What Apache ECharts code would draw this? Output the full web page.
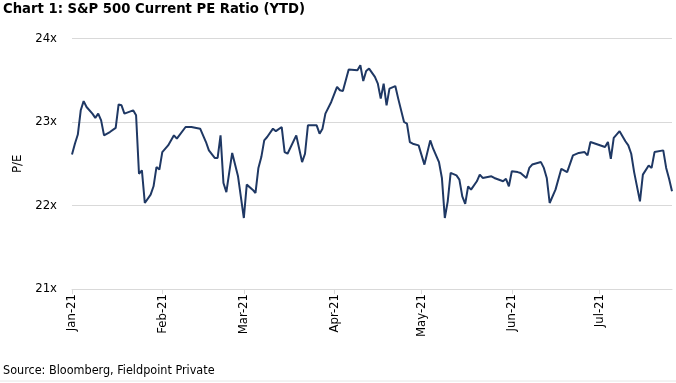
<!DOCTYPE html>
<html>
<head>
<meta charset="utf-8">
<script src="https://cdn.jsdelivr.net/npm/echarts@6/dist/echarts.min.js"></script>
<style>
html,body{margin:0;padding:0;background:#fff;}
#chart{width:676px;height:383px;}
</style>
</head>
<body>
<div id="chart"></div>
<script>
const titleText = 'Chart 1: S&P 500 Current PE Ratio (YTD)';
const sourceText = 'Source: Bloomberg, Fieldpoint Private';
const yAxisName = 'P/E';
const monthLabels = ['Jan-21','Feb-21','Mar-21','Apr-21','May-21','Jun-21','Jul-21','Aug-21','Sep-21','Oct-21','Nov-21','Dec-21'];
const yTicks = [21, 22, 23, 24];

const dates = [
 '2021-01-01','2021-01-02','2021-01-03','2021-01-04','2021-01-05','2021-01-06','2021-01-08','2021-01-09','2021-01-10','2021-01-11',
 '2021-01-12','2021-01-14','2021-01-16','2021-01-17','2021-01-18','2021-01-19','2021-01-22','2021-01-23','2021-01-24','2021-01-25',
 '2021-01-26','2021-01-28','2021-01-29','2021-01-30','2021-01-31','2021-02-01','2021-02-03','2021-02-05','2021-02-06','2021-02-09',
 '2021-02-11','2021-02-14','2021-02-16','2021-02-17','2021-02-19','2021-02-20','2021-02-21','2021-02-22','2021-02-23','2021-02-24',
 '2021-02-25','2021-02-27','2021-03-01','2021-03-02','2021-03-04','2021-03-05','2021-03-06','2021-03-07','2021-03-08','2021-03-09',
 '2021-03-11','2021-03-12','2021-03-14','2021-03-15','2021-03-16','2021-03-19','2021-03-21','2021-03-22','2021-03-23','2021-03-25',
 '2021-03-26','2021-03-27','2021-03-28','2021-03-29','2021-03-31','2021-04-02','2021-04-03','2021-04-04','2021-04-06','2021-04-09',
 '2021-04-10','2021-04-11','2021-04-12','2021-04-13','2021-04-15','2021-04-16','2021-04-17','2021-04-18','2021-04-19','2021-04-20',
 '2021-04-22','2021-04-23','2021-04-25','2021-04-26','2021-04-27','2021-04-28','2021-04-30','2021-05-02','2021-05-04','2021-05-05',
 '2021-05-07','2021-05-08','2021-05-09','2021-05-10','2021-05-11','2021-05-13','2021-05-14','2021-05-15','2021-05-16','2021-05-17',
 '2021-05-18','2021-05-20','2021-05-21','2021-05-22','2021-05-25','2021-05-26','2021-05-29','2021-05-30','2021-05-31','2021-06-01',
 '2021-06-03','2021-06-04','2021-06-06','2021-06-07','2021-06-08','2021-06-11','2021-06-12','2021-06-13','2021-06-14','2021-06-16',
 '2021-06-18','2021-06-20','2021-06-22','2021-06-24','2021-06-26','2021-06-27','2021-06-28','2021-07-03','2021-07-04','2021-07-05',
 '2021-07-06','2021-07-08','2021-07-10','2021-07-11','2021-07-12','2021-07-13','2021-07-15','2021-07-16','2021-07-18','2021-07-19',
 '2021-07-20','2021-07-23','2021-07-24','2021-07-25','2021-07-26'
];
const peValues = [
 22.61,22.74,22.85,23.14,23.25,23.18,23.10,23.05,23.10,23.02,
 22.84,22.88,22.93,23.21,23.20,23.10,23.14,23.08,22.38,22.42,
 22.03,22.13,22.23,22.46,22.43,22.64,22.72,22.84,22.80,22.94,
 22.94,22.92,22.76,22.66,22.57,22.57,22.84,22.27,22.16,22.40,
 22.63,22.35,21.85,22.25,22.19,22.15,22.45,22.58,22.78,22.82,
 22.92,22.89,22.94,22.64,22.62,22.84,22.52,22.62,22.96,22.96,
 22.96,22.86,22.92,23.10,23.24,23.42,23.38,23.37,23.63,23.62,
 23.68,23.49,23.61,23.64,23.54,23.46,23.28,23.46,23.20,23.40,
 23.43,23.28,23.00,22.98,22.76,22.74,22.72,22.49,22.78,22.68,
 22.52,22.33,21.85,22.05,22.39,22.36,22.31,22.11,22.02,22.23,
 22.19,22.29,22.37,22.33,22.35,22.33,22.29,22.32,22.23,22.41,
 22.40,22.39,22.33,22.45,22.49,22.52,22.45,22.33,22.03,22.19,
 22.44,22.40,22.60,22.63,22.64,22.60,22.76,22.70,22.76,22.56,
 22.81,22.89,22.77,22.72,22.62,22.40,22.05,22.37,22.48,22.45,
 22.64,22.66,22.45,22.32,22.17
];

const seriesData = dates.map((d, i) => [d, peValues[i]]);

const chart = echarts.init(document.getElementById('chart'), null, {renderer: 'canvas'});
chart.setOption({
  animation: false,
  backgroundColor: '#ffffff',
  grid: {left: 72, right: 4, top: 38.5, bottom: 94, containLabel: false},
  graphic: [
    {type: 'text', left: 3, top: 2, style: {text: titleText, font: 'bold 14.7px "DejaVu Sans Condensed", "DejaVu Sans"', fill: '#000'}},
    {type: 'text', left: 3, top: 364, style: {text: sourceText, font: '12.5px "DejaVu Sans Condensed", "DejaVu Sans"', fill: '#000'}},
    {type: 'line', shape: {x1: 0, y1: 381, x2: 676, y2: 381}, style: {stroke: '#e6e6e6', lineWidth: 1}}
  ],
  xAxis: {
    type: 'time',
    min: dates[0],
    max: dates[dates.length - 1],
    splitNumber: 7,
    axisLine: {show: true, lineStyle: {color: '#d9d9d9', width: 1}},
    axisTick: {show: true, length: 5, lineStyle: {color: '#d9d9d9'}},
    splitLine: {show: false},
    axisLabel: {
      rotate: 90, margin: 5, color: '#000', fontFamily: 'DejaVu Sans Condensed', fontSize: 13,
      showMaxLabel: false,
      formatter: function (val) { const dt = new Date(val); return monthLabels[dt.getMonth()]; }
    }
  },
  yAxis: {
    type: 'value', min: yTicks[0], max: yTicks[yTicks.length - 1], interval: 1,
    name: yAxisName, nameLocation: 'middle', nameGap: 42, nameRotate: 90,
    nameTextStyle: {color: '#000', fontFamily: 'DejaVu Sans Condensed', fontSize: 13},
    axisLine: {show: false}, axisTick: {show: false},
    splitLine: {lineStyle: {color: '#d9d9d9', width: 1}},
    axisLabel: {margin: 15, color: '#000', fontFamily: 'DejaVu Sans Condensed', fontSize: 13, formatter: '{value}x'}
  },
  series: [{
    type: 'line', data: seriesData, showSymbol: false, symbol: 'none',
    lineStyle: {color: '#1f3864', width: 2}, smooth: false
  }]
});
</script>
</body>
</html>
